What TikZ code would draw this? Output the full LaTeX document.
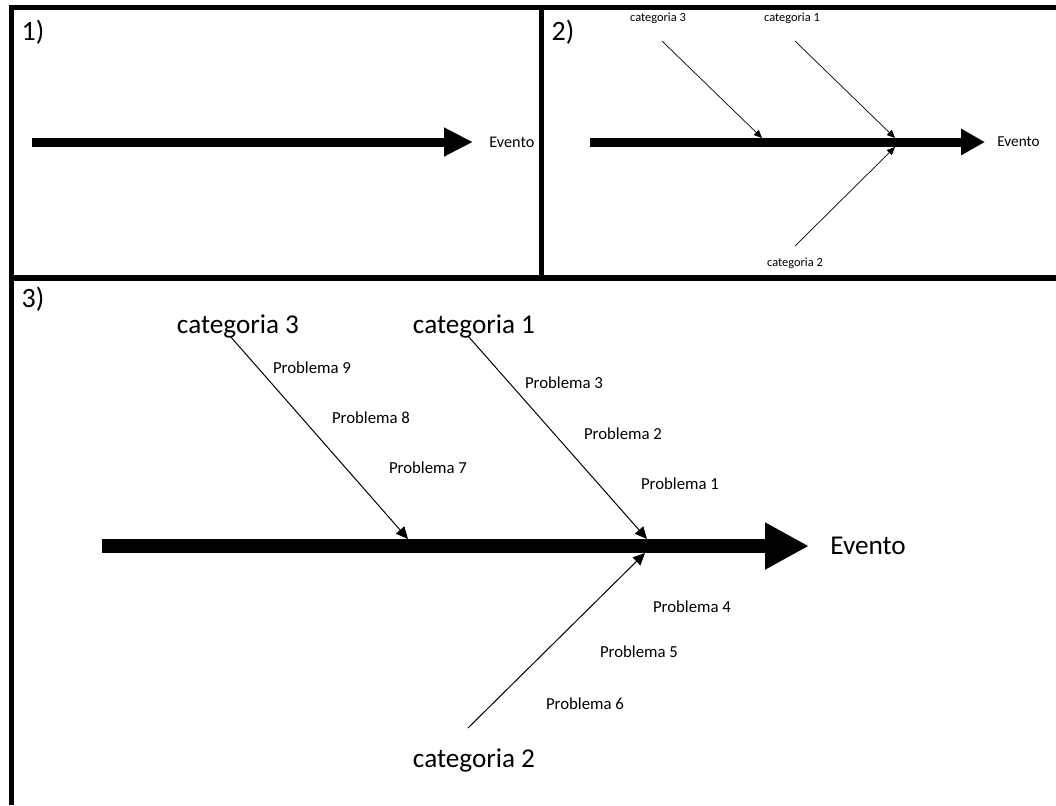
\documentclass[tikz,border=0pt]{standalone}
\usepackage{fontspec}
\setmainfont{Carlito}
\usetikzlibrary{arrows.meta}

\tikzset{
  frame/.style={line width=2.7pt},
  panellabel/.style={font=\fontsize{14}{16}\selectfont},
  spinea/.style={line width=4.5pt,-{Triangle[length=14.5pt,width=13.5pt]}},
  spineb/.style={line width=4.5pt,-{Triangle[length=12pt,width=12.5pt]}},
  spinec/.style={line width=7pt,-{Triangle[length=22pt,width=22pt]}},
  boneb/.style={line width=0.35pt,-{Triangle[length=4pt,width=3.5pt]}},
  bonec/.style={line width=0.5pt,-{Triangle[length=6pt,width=5.5pt]}},
  smalltext/.style={font=\fontsize{6.2}{7}\selectfont},
  midtext/.style={font=\fontsize{8.4}{10}\selectfont},
  bigtext/.style={font=\fontsize{13.6}{16}\selectfont}
}

\begin{document}
\begin{tikzpicture}[x=0.5pt,y=-0.5pt]
\useasboundingbox (0,0) rectangle (1056,805);
% frames
\draw[frame] (11.5,5) -- (11.5,805);
\draw[frame] (9,7.5) -- (1056,7.5);
\draw[frame] (541.5,7.5) -- (541.5,278);
\draw[frame] (11.5,278) -- (1056,278);
\node[panellabel] (lab1) at (33,32){1)};
\node[panellabel] (lab2) at (563,32){2)};
\node[panellabel] (lab3) at (33,299){3)};
% panel 1
\coordinate (tail1) at (32,142);
\coordinate (head1) at (473,142);
\draw[spinea] (tail1) -- (head1);
\node[anchor=west, inner sep=0pt, font=\fontsize{8.1}{10}\selectfont] (ev1) at (489,142){Evento};
% panel 2
\coordinate (tail2) at (590,142);
\coordinate (head2) at (985,142);
\draw[spineb] (tail2) -- (head2);
\node[anchor=west, inner sep=0pt, font=\fontsize{7.6}{9}\selectfont] (ev2) at (997,142){Evento};
\node[smalltext] (c3b) at (658,18){categoria 3};
\node[smalltext] (c1b) at (792,18){categoria 1};
\node[smalltext] (c2b) at (795,263){categoria 2};
\coordinate (s3b) at (662,41);
\coordinate (s1b) at (795,41);
\coordinate (s2b) at (795,246);
\coordinate (t3b) at (762,138);
\coordinate (t1b) at (895,138);
\coordinate (t2b) at (895,147);
\draw[boneb] (s3b) -- (t3b);
\draw[boneb] (s1b) -- (t1b);
\draw[boneb] (s2b) -- (t2b);
% panel 3
\coordinate (tail3) at (102,546);
\coordinate (head3) at (809,546);
\draw[spinec] (tail3) -- (head3);
\node[bigtext, anchor=west, inner sep=0pt] (ev3) at (830,546){Evento};
\node[bigtext] (c3c) at (238,326){categoria 3};
\node[bigtext] (c1c) at (474,326){categoria 1};
\node[bigtext] (c2c) at (474,760){categoria 2};
\coordinate (s3c) at (230,336);
\coordinate (s1c) at (468,336);
\coordinate (s2c) at (468,728);
\coordinate (t3c) at (408,539);
\coordinate (t1c) at (647,539);
\coordinate (t2c) at (645,553);
\draw[bonec] (s3c) -- (t3c);
\draw[bonec] (s1c) -- (t1c);
\draw[bonec] (s2c) -- (t2c);
\node[midtext] (p9) at (312,368){Problema 9};
\node[midtext] (p8) at (371,418){Problema 8};
\node[midtext] (p7) at (428,468){Problema 7};
\node[midtext] (p3) at (564,383){Problema 3};
\node[midtext] (p2) at (623,434){Problema 2};
\node[midtext] (p1) at (680,484){Problema 1};
\node[midtext] (p4) at (692,607){Problema 4};
\node[midtext] (p5) at (639,652){Problema 5};
\node[midtext] (p6) at (585,704){Problema 6};
\end{tikzpicture}
\end{document}
